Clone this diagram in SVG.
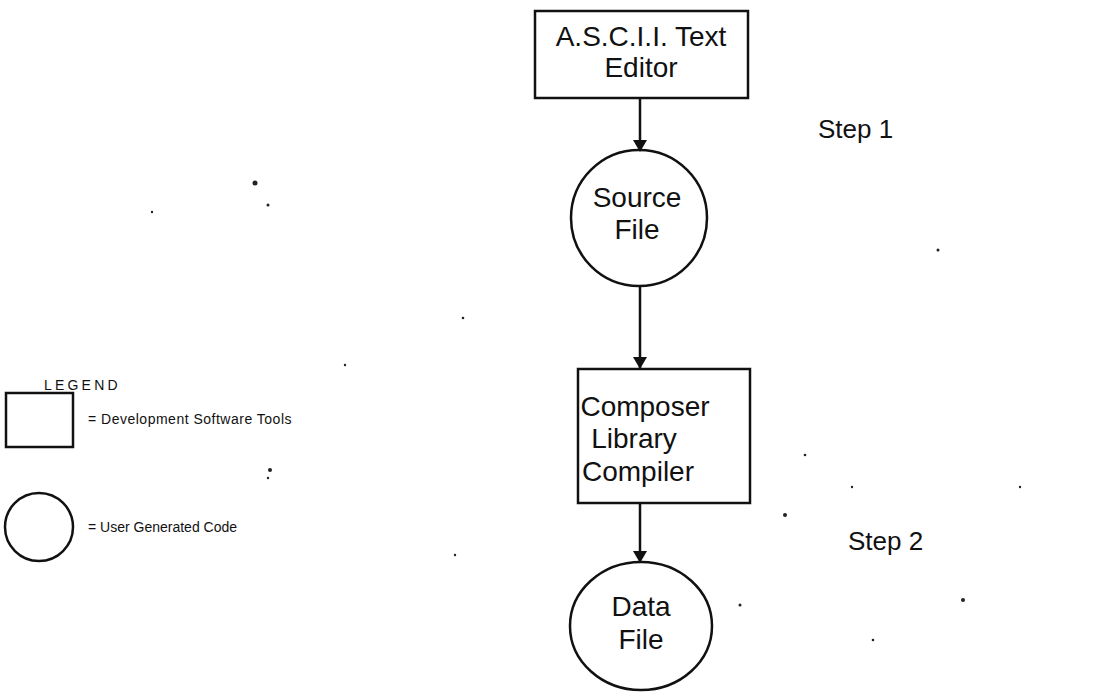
<svg xmlns="http://www.w3.org/2000/svg" width="1105" height="698" viewBox="0 0 1105 698">
  <style>
    .shape { fill: none; stroke: #111; stroke-width: 2.5; }
    .label { font-family: "Liberation Sans", Arial, sans-serif; font-size: 28px; fill: #111; text-anchor: middle; }
    .step { font-family: "Liberation Sans", Arial, sans-serif; font-size: 26px; fill: #111; }
    .legend { font-family: "Liberation Sans", Arial, sans-serif; font-size: 14px; fill: #111; }
    .wire { stroke: #111; stroke-width: 2.5; fill: none; }
    .speck { fill: #222; }
  </style>
  <defs>
    <marker id="arrow" viewBox="0 0 12 16" refX="11" refY="8" markerWidth="12" markerHeight="16" markerUnits="userSpaceOnUse" orient="auto">
      <path d="M0,1 L12,8 L0,15 Z" fill="#111"/>
    </marker>
  </defs>
  <rect width="1105" height="698" fill="#fff"/>

  <!-- flow connectors -->
  <g id="connectors">
    <line class="wire" x1="640" y1="99" x2="640" y2="151" marker-end="url(#arrow)"/>
    <line class="wire" x1="640" y1="286" x2="640" y2="368" marker-end="url(#arrow)"/>
    <line class="wire" x1="640" y1="503" x2="640" y2="562" marker-end="url(#arrow)"/>
  </g>

  <g id="text-editor">
    <rect class="shape" x="535" y="11" width="213" height="87"/>
    <text class="label" x="641" y="46">A.S.C.I.I. Text</text>
    <text class="label" x="641" y="77">Editor</text>
  </g>

  <g id="source-file">
    <circle class="shape" cx="639" cy="218" r="68"/>
    <text class="label" x="637" y="207" font-size="29">Source</text>
    <text class="label" x="637" y="239" font-size="29">File</text>
  </g>

  <g id="compiler">
    <rect class="shape" x="578" y="369" width="172" height="134"/>
    <text class="label" x="645" y="416">Composer</text>
    <text class="label" x="634" y="448">Library</text>
    <text class="label" x="638" y="481">Compiler</text>
  </g>

  <g id="data-file">
    <ellipse class="shape" cx="641" cy="626" rx="71" ry="64"/>
    <text class="label" x="641" y="616" font-size="29">Data</text>
    <text class="label" x="641" y="649" font-size="29">File</text>
  </g>

  <g id="steps">
    <text class="step" x="818" y="138">Step 1</text>
    <text class="step" x="848" y="550">Step 2</text>
  </g>

  <g id="legend">
    <text class="legend" x="44" y="390" font-size="14" letter-spacing="3.2">LEGEND</text>
    <rect class="shape" x="6" y="393" width="67" height="54"/>
    <text class="legend" x="88" y="424" letter-spacing="0.5">= Development Software Tools</text>
    <circle class="shape" cx="39" cy="527" r="34"/>
    <text class="legend" x="88" y="532">= User Generated Code</text>
  </g>

  <!-- stray print specks -->
  <g id="specks">
    <circle class="speck" cx="255" cy="183" r="2.5"/>
    <circle class="speck" cx="268" cy="205" r="1.5"/>
    <circle class="speck" cx="152" cy="212" r="1.2"/>
    <circle class="speck" cx="463" cy="318" r="1.3"/>
    <circle class="speck" cx="270" cy="470" r="2"/>
    <circle class="speck" cx="268" cy="478" r="1.2"/>
    <circle class="speck" cx="785" cy="515" r="2"/>
    <circle class="speck" cx="963" cy="600" r="2"/>
    <circle class="speck" cx="938" cy="250" r="1.5"/>
    <circle class="speck" cx="805" cy="455" r="1.3"/>
    <circle class="speck" cx="852" cy="487" r="1.2"/>
    <circle class="speck" cx="1020" cy="487" r="1.2"/>
    <circle class="speck" cx="740" cy="605" r="1.5"/>
    <circle class="speck" cx="873" cy="640" r="1.3"/>
    <circle class="speck" cx="345" cy="365" r="1.2"/>
    <circle class="speck" cx="455" cy="555" r="1.2"/>
  </g>
</svg>
